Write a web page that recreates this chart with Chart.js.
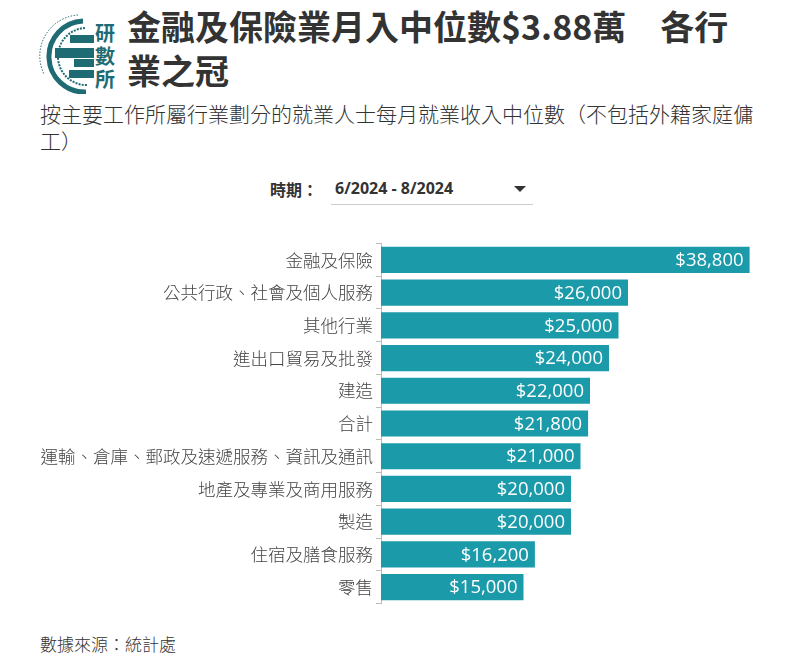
<!DOCTYPE html>
<html>
<head>
<meta charset="utf-8">
<script src="https://cdn.jsdelivr.net/npm/chart.js@4"></script>
<style>
  body { margin: 0; background: #fff; width: 797px; height: 661px; overflow: hidden; position: relative;
         font-family: "Noto Sans CJK TC", "Noto Sans", sans-serif; color: #333; }
  #logo { position: absolute; left: 38px; top: 12px; }
  #title { position: absolute; left: 127px; top: 4px; font-size: 34px; font-weight: 700; line-height: 44px; color: #333; white-space: nowrap; }
  #subtitle { position: absolute; left: 40px; top: 100px; width: 730px; font-size: 21px; line-height: 27px; font-weight: 300; color: #333; }
  #period { position: absolute; left: 270px; top: 177px; font-size: 16px; font-weight: 700; color: #333; }
  #select { position: absolute; left: 331px; top: 177px; width: 202px; height: 27px; border-bottom: 1px solid #ccc;
            font-family: "Open Sans", sans-serif; font-size: 16px; font-weight: 700; color: #333; }
  #select span { position: absolute; left: 4px; top: 0; }
  #select i { position: absolute; right: 7px; top: 9px; width: 0; height: 0; border-left: 6px solid transparent;
              border-right: 6px solid transparent; border-top: 6px solid #333; }
  #wrap { position: absolute; left: 0; top: 230px; width: 761px; height: 387px; }
  #source { position: absolute; left: 40px; top: 631px; font-size: 17px; font-weight: 300; color: #333; }
</style>
</head>
<body>
<svg id="logo" width="82" height="82" viewBox="0 0 82 82">
  <g fill="none" stroke="#1e6b73">
    <path d="M 45 9 A 34 34 0 1 0 48 80" stroke-width="5"/>
    <path d="M 47 16 A 27 27 0 1 0 50 73" stroke-width="2" stroke-dasharray="2 1.2"/>
    <path d="M 40 3 A 41 41 0 0 0 6 62" stroke-width="1" stroke-dasharray="1.5 1.5"/>
  </g>
  <g fill="#1e6b73">
    <rect x="32" y="23" width="24" height="8"/>
    <rect x="17" y="36" width="39" height="10"/>
    <rect x="36" y="47" width="20" height="8"/>
    <rect x="31" y="58" width="25" height="8"/>
    <text x="57" y="29" font-size="20" font-weight="700" font-family="Noto Sans CJK TC">研</text>
    <text x="57" y="52" font-size="20" font-weight="700" font-family="Noto Sans CJK TC">數</text>
    <text x="57" y="75" font-size="20" font-weight="700" font-family="Noto Sans CJK TC">所</text>
  </g>
</svg>
<div id="title">金融及保險業月入中位數$3.88萬　各行<br>業之冠</div>
<div id="subtitle">按主要工作所屬行業劃分的就業人士每月就業收入中位數（不包括外籍家庭傭工）</div>
<div id="period">時期：</div>
<div id="select"><span>6/2024 - 8/2024</span><i></i></div>
<div id="wrap"><canvas id="chart"></canvas></div>
<div id="source">數據來源：統計處</div>
<script>
// categories and median monthly income (HK$)
const industries = [
  '金融及保險',
  '公共行政、社會及個人服務',
  '其他行業',
  '進出口貿易及批發',
  '建造',
  '合計',
  '運輸、倉庫、郵政及速遞服務、資訊及通訊',
  '地產及專業及商用服務',
  '製造',
  '住宿及膳食服務',
  '零售'
];
const medianIncome = [38800, 26000, 25000, 24000, 22000, 21800, 21000, 20000, 20000, 16200, 15000];

const barColor = '#1b9aaa';

// draws "$38,800" style labels inside the end of each bar
const barLabels = {
  id: 'barLabels',
  afterDatasetsDraw(chart) {
    const ctx = chart.ctx;
    const meta = chart.getDatasetMeta(0);
    ctx.save();
    ctx.font = '500 18.5px "Open Sans", sans-serif';
    ctx.fillStyle = '#fff';
    ctx.textAlign = 'right';
    ctx.textBaseline = 'middle';
    meta.data.forEach((bar, i) => {
      ctx.fillText('$' + medianIncome[i].toLocaleString('en-US'), bar.x - 6, bar.y + 1);
    });
    ctx.restore();
  }
};

new Chart(document.getElementById('chart'), {
  type: 'bar',
  data: {
    labels: industries,
    datasets: [{
      data: medianIncome,
      backgroundColor: barColor,
      barPercentage: 0.8,
      categoryPercentage: 1.0
    }]
  },
  options: {
    indexAxis: 'y',
    responsive: true,
    maintainAspectRatio: false,
    animation: false,
    layout: { padding: 0 },
    plugins: {
      legend: { display: false },
      tooltip: { enabled: false }
    },
    scales: {
      x: { display: false, min: 0, max: 40000 },
      y: {
        afterFit(scale) { scale.width = 381; },
        grid: { drawOnChartArea: false, drawTicks: true, tickLength: 5, color: '#bbb' },
        border: { display: true, color: '#bbb' },
        ticks: {
          color: '#444',
          padding: 3,
          font: { family: '"Noto Sans CJK TC", sans-serif', size: 17.5, weight: 300 }
        }
      }
    }
  },
  plugins: [barLabels]
});
</script>
</body>
</html>
